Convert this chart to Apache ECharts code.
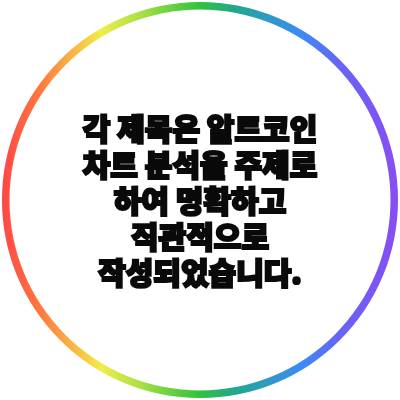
<!DOCTYPE html>
<html><head><meta charset="utf-8">
<script src="https://cdn.jsdelivr.net/npm/echarts@6/dist/echarts.min.js"></script>
<style>html,body{margin:0;padding:0;background:#fff}#c{width:400px;height:400px}</style>
</head><body><div id="c"></div>
<script>
const titleLines = ['각 제목은 알트코인', '차트 분석을 주제로', '하여 명확하고', '직관적으로', '작성되었습니다.'];
const ringValues = [1];
const ringStops = [0, 0.1, 0.25, 0.35, 0.5, 0.58, 0.75, 0.85, 1];
const ringColors = ['#ff4545', '#ff7a40', '#f2ec48', '#a8e045', '#2ec23c', '#22a98a', '#3a8cf5', '#6466f5', '#8a4cf2'];

const chart = echarts.init(document.getElementById('c'));
chart.setOption({
  backgroundColor: '#ffffff',
  animation: false,
  graphic: titleLines.map((t, i) => ({
    type: 'text', silent: true, z: 10,
    style: {
      x: 200, y: 129 + 36 * i,
      text: t,
      align: 'center', verticalAlign: 'middle',
      fontFamily: 'Noto Sans CJK KR', fontWeight: 900, fontSize: 30,
      fill: '#0a0a0a',
      stroke: '#0a0a0a', lineWidth: 2.2
    }
  })),
  series: [{
    type: 'pie', silent: true,
    center: ['50%', '50%'], radius: [190.5, 198],
    label: { show: false }, labelLine: { show: false },
    itemStyle: {
      color: new echarts.graphic.LinearGradient(0, 0, 1, 0,
        ringStops.map((s, i) => ({ offset: s, color: ringColors[i] })))
    },
    data: ringValues.map(v => ({ value: v }))
  }]
});
</script></body></html>
